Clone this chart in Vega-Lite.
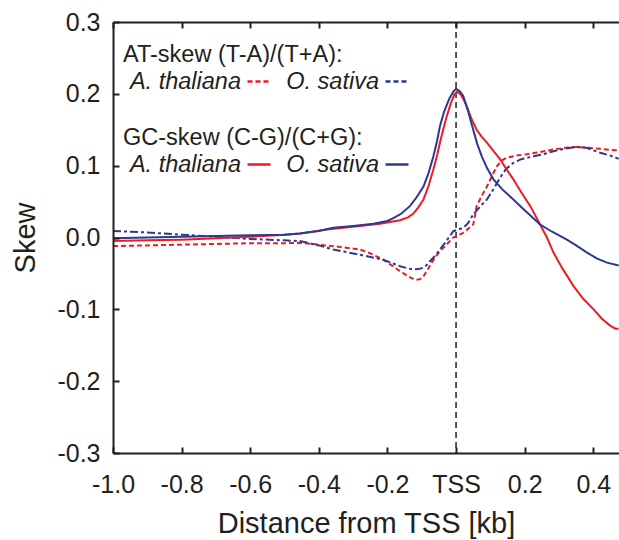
{
  "$schema": "https://vega.github.io/schema/vega-lite/v6.json",
  "autosize": "none",
  "width": 506,
  "height": 431,
  "padding": {"left": 113, "top": 22, "right": 0, "bottom": 87},
  "background": "white",
  "config": {
    "view": {"stroke": null, "fill": null},
    "font": "Liberation Sans",
    "axis": {
      "grid": false,
      "ticks": true,
      "zindex": 1,
      "domainColor": "#231f20",
      "domainWidth": 2,
      "tickColor": "#231f20",
      "tickWidth": 2,
      "tickSize": -6,
      "tickOpacity": 1,
      "labelColor": "#231f20",
      "titleColor": "#231f20",
      "labelFont": "Liberation Sans",
      "titleFont": "Liberation Sans",
      "labelFontSize": 25,
      "titleFontSize": 29,
      "titleFontWeight": "normal",
      "labelFlush": false
    },
    "legend": {
      "orient": "none",
      "direction": "horizontal",
      "columns": 1,
      "symbolType": "stroke",
      "symbolSize": 529,
      "symbolStrokeWidth": 2.5,
      "symbolOffset": 123,
      "labelFont": "Liberation Sans",
      "titleFont": "Liberation Sans",
      "labelFontSize": 23.5,
      "labelFontStyle": "italic",
      "labelAlign": "right",
      "labelOffset": -31,
      "labelLimit": 300,
      "titleLimit": 400,
      "titleFontSize": 23.5,
      "titleFontWeight": "normal",
      "titlePadding": 2,
      "padding": 0,
      "labelColor": "#231f20",
      "titleColor": "#231f20"
    }
  },
  "data": {
    "values": [
      {"x": -1.0, "y": -0.001, "s": "GC", "sp": "O. sativa"},
      {"x": -0.9, "y": 0.0, "s": "GC", "sp": "O. sativa"},
      {"x": -0.8, "y": 0.001, "s": "GC", "sp": "O. sativa"},
      {"x": -0.7, "y": 0.002, "s": "GC", "sp": "O. sativa"},
      {"x": -0.6, "y": 0.003, "s": "GC", "sp": "O. sativa"},
      {"x": -0.5, "y": 0.004, "s": "GC", "sp": "O. sativa"},
      {"x": -0.455, "y": 0.0056, "s": "GC", "sp": "O. sativa"},
      {"x": -0.4, "y": 0.009, "s": "GC", "sp": "O. sativa"},
      {"x": -0.358, "y": 0.0135, "s": "GC", "sp": "O. sativa"},
      {"x": -0.3, "y": 0.016, "s": "GC", "sp": "O. sativa"},
      {"x": -0.241, "y": 0.019, "s": "GC", "sp": "O. sativa"},
      {"x": -0.2, "y": 0.023, "s": "GC", "sp": "O. sativa"},
      {"x": -0.183, "y": 0.027, "s": "GC", "sp": "O. sativa"},
      {"x": -0.16, "y": 0.033, "s": "GC", "sp": "O. sativa"},
      {"x": -0.134, "y": 0.044, "s": "GC", "sp": "O. sativa"},
      {"x": -0.115, "y": 0.056, "s": "GC", "sp": "O. sativa"},
      {"x": -0.095, "y": 0.071, "s": "GC", "sp": "O. sativa"},
      {"x": -0.08, "y": 0.09, "s": "GC", "sp": "O. sativa"},
      {"x": -0.066, "y": 0.113, "s": "GC", "sp": "O. sativa"},
      {"x": -0.055, "y": 0.135, "s": "GC", "sp": "O. sativa"},
      {"x": -0.047, "y": 0.155, "s": "GC", "sp": "O. sativa"},
      {"x": -0.035, "y": 0.175, "s": "GC", "sp": "O. sativa"},
      {"x": -0.02, "y": 0.193, "s": "GC", "sp": "O. sativa"},
      {"x": -0.008, "y": 0.203, "s": "GC", "sp": "O. sativa"},
      {"x": 0.0, "y": 0.207, "s": "GC", "sp": "O. sativa"},
      {"x": 0.01, "y": 0.204, "s": "GC", "sp": "O. sativa"},
      {"x": 0.021, "y": 0.197, "s": "GC", "sp": "O. sativa"},
      {"x": 0.035, "y": 0.176, "s": "GC", "sp": "O. sativa"},
      {"x": 0.05, "y": 0.15, "s": "GC", "sp": "O. sativa"},
      {"x": 0.062, "y": 0.13, "s": "GC", "sp": "O. sativa"},
      {"x": 0.075, "y": 0.113, "s": "GC", "sp": "O. sativa"},
      {"x": 0.09, "y": 0.097, "s": "GC", "sp": "O. sativa"},
      {"x": 0.109, "y": 0.081, "s": "GC", "sp": "O. sativa"},
      {"x": 0.135, "y": 0.067, "s": "GC", "sp": "O. sativa"},
      {"x": 0.167, "y": 0.053, "s": "GC", "sp": "O. sativa"},
      {"x": 0.2, "y": 0.038, "s": "GC", "sp": "O. sativa"},
      {"x": 0.245, "y": 0.018, "s": "GC", "sp": "O. sativa"},
      {"x": 0.28, "y": 0.008, "s": "GC", "sp": "O. sativa"},
      {"x": 0.323, "y": -0.003, "s": "GC", "sp": "O. sativa"},
      {"x": 0.35, "y": -0.011, "s": "GC", "sp": "O. sativa"},
      {"x": 0.382, "y": -0.021, "s": "GC", "sp": "O. sativa"},
      {"x": 0.41, "y": -0.029, "s": "GC", "sp": "O. sativa"},
      {"x": 0.44, "y": -0.035, "s": "GC", "sp": "O. sativa"},
      {"x": 0.474, "y": -0.039, "s": "GC", "sp": "O. sativa"},

      {"x": -1.0, "y": -0.005, "s": "GC", "sp": "A. thaliana"},
      {"x": -0.9, "y": -0.004, "s": "GC", "sp": "A. thaliana"},
      {"x": -0.8, "y": -0.003, "s": "GC", "sp": "A. thaliana"},
      {"x": -0.7, "y": -0.001, "s": "GC", "sp": "A. thaliana"},
      {"x": -0.6, "y": 0.001, "s": "GC", "sp": "A. thaliana"},
      {"x": -0.5, "y": 0.004, "s": "GC", "sp": "A. thaliana"},
      {"x": -0.455, "y": 0.0056, "s": "GC", "sp": "A. thaliana"},
      {"x": -0.377, "y": 0.011, "s": "GC", "sp": "A. thaliana"},
      {"x": -0.28, "y": 0.016, "s": "GC", "sp": "A. thaliana"},
      {"x": -0.222, "y": 0.019, "s": "GC", "sp": "A. thaliana"},
      {"x": -0.163, "y": 0.024, "s": "GC", "sp": "A. thaliana"},
      {"x": -0.14, "y": 0.028, "s": "GC", "sp": "A. thaliana"},
      {"x": -0.125, "y": 0.033, "s": "GC", "sp": "A. thaliana"},
      {"x": -0.11, "y": 0.042, "s": "GC", "sp": "A. thaliana"},
      {"x": -0.095, "y": 0.053, "s": "GC", "sp": "A. thaliana"},
      {"x": -0.08, "y": 0.072, "s": "GC", "sp": "A. thaliana"},
      {"x": -0.066, "y": 0.095, "s": "GC", "sp": "A. thaliana"},
      {"x": -0.055, "y": 0.115, "s": "GC", "sp": "A. thaliana"},
      {"x": -0.047, "y": 0.132, "s": "GC", "sp": "A. thaliana"},
      {"x": -0.035, "y": 0.155, "s": "GC", "sp": "A. thaliana"},
      {"x": -0.027, "y": 0.169, "s": "GC", "sp": "A. thaliana"},
      {"x": -0.015, "y": 0.187, "s": "GC", "sp": "A. thaliana"},
      {"x": -0.005, "y": 0.199, "s": "GC", "sp": "A. thaliana"},
      {"x": 0.003, "y": 0.203, "s": "GC", "sp": "A. thaliana"},
      {"x": 0.012, "y": 0.2, "s": "GC", "sp": "A. thaliana"},
      {"x": 0.02, "y": 0.194, "s": "GC", "sp": "A. thaliana"},
      {"x": 0.031, "y": 0.183, "s": "GC", "sp": "A. thaliana"},
      {"x": 0.045, "y": 0.165, "s": "GC", "sp": "A. thaliana"},
      {"x": 0.06, "y": 0.15, "s": "GC", "sp": "A. thaliana"},
      {"x": 0.075, "y": 0.14, "s": "GC", "sp": "A. thaliana"},
      {"x": 0.09, "y": 0.132, "s": "GC", "sp": "A. thaliana"},
      {"x": 0.11, "y": 0.12, "s": "GC", "sp": "A. thaliana"},
      {"x": 0.128, "y": 0.109, "s": "GC", "sp": "A. thaliana"},
      {"x": 0.15, "y": 0.093, "s": "GC", "sp": "A. thaliana"},
      {"x": 0.167, "y": 0.081, "s": "GC", "sp": "A. thaliana"},
      {"x": 0.19, "y": 0.063, "s": "GC", "sp": "A. thaliana"},
      {"x": 0.216, "y": 0.044, "s": "GC", "sp": "A. thaliana"},
      {"x": 0.245, "y": 0.018, "s": "GC", "sp": "A. thaliana"},
      {"x": 0.265, "y": 0.0, "s": "GC", "sp": "A. thaliana"},
      {"x": 0.284, "y": -0.021, "s": "GC", "sp": "A. thaliana"},
      {"x": 0.31, "y": -0.043, "s": "GC", "sp": "A. thaliana"},
      {"x": 0.343, "y": -0.068, "s": "GC", "sp": "A. thaliana"},
      {"x": 0.37, "y": -0.085, "s": "GC", "sp": "A. thaliana"},
      {"x": 0.401, "y": -0.1, "s": "GC", "sp": "A. thaliana"},
      {"x": 0.425, "y": -0.113, "s": "GC", "sp": "A. thaliana"},
      {"x": 0.45, "y": -0.123, "s": "GC", "sp": "A. thaliana"},
      {"x": 0.465, "y": -0.127, "s": "GC", "sp": "A. thaliana"},
      {"x": 0.474, "y": -0.127, "s": "GC", "sp": "A. thaliana"},

      {"x": -1.0, "y": -0.012, "s": "AT", "sp": "A. thaliana"},
      {"x": -0.9, "y": -0.011, "s": "AT", "sp": "A. thaliana"},
      {"x": -0.8, "y": -0.01, "s": "AT", "sp": "A. thaliana"},
      {"x": -0.7, "y": -0.009, "s": "AT", "sp": "A. thaliana"},
      {"x": -0.6, "y": -0.008, "s": "AT", "sp": "A. thaliana"},
      {"x": -0.5, "y": -0.008, "s": "AT", "sp": "A. thaliana"},
      {"x": -0.455, "y": -0.0074, "s": "AT", "sp": "A. thaliana"},
      {"x": -0.358, "y": -0.012, "s": "AT", "sp": "A. thaliana"},
      {"x": -0.28, "y": -0.0167, "s": "AT", "sp": "A. thaliana"},
      {"x": -0.25, "y": -0.022, "s": "AT", "sp": "A. thaliana"},
      {"x": -0.212, "y": -0.031, "s": "AT", "sp": "A. thaliana"},
      {"x": -0.19, "y": -0.038, "s": "AT", "sp": "A. thaliana"},
      {"x": -0.163, "y": -0.047, "s": "AT", "sp": "A. thaliana"},
      {"x": -0.14, "y": -0.054, "s": "AT", "sp": "A. thaliana"},
      {"x": -0.12, "y": -0.059, "s": "AT", "sp": "A. thaliana"},
      {"x": -0.105, "y": -0.058, "s": "AT", "sp": "A. thaliana"},
      {"x": -0.095, "y": -0.054, "s": "AT", "sp": "A. thaliana"},
      {"x": -0.083, "y": -0.045, "s": "AT", "sp": "A. thaliana"},
      {"x": -0.071, "y": -0.035, "s": "AT", "sp": "A. thaliana"},
      {"x": -0.06, "y": -0.027, "s": "AT", "sp": "A. thaliana"},
      {"x": -0.047, "y": -0.019, "s": "AT", "sp": "A. thaliana"},
      {"x": -0.03, "y": -0.011, "s": "AT", "sp": "A. thaliana"},
      {"x": -0.008, "y": 0.0, "s": "AT", "sp": "A. thaliana"},
      {"x": 0.005, "y": 0.003, "s": "AT", "sp": "A. thaliana"},
      {"x": 0.021, "y": 0.0065, "s": "AT", "sp": "A. thaliana"},
      {"x": 0.035, "y": 0.012, "s": "AT", "sp": "A. thaliana"},
      {"x": 0.05, "y": 0.018, "s": "AT", "sp": "A. thaliana"},
      {"x": 0.055, "y": 0.03, "s": "AT", "sp": "A. thaliana"},
      {"x": 0.06, "y": 0.044, "s": "AT", "sp": "A. thaliana"},
      {"x": 0.075, "y": 0.058, "s": "AT", "sp": "A. thaliana"},
      {"x": 0.09, "y": 0.071, "s": "AT", "sp": "A. thaliana"},
      {"x": 0.105, "y": 0.086, "s": "AT", "sp": "A. thaliana"},
      {"x": 0.119, "y": 0.099, "s": "AT", "sp": "A. thaliana"},
      {"x": 0.133, "y": 0.107, "s": "AT", "sp": "A. thaliana"},
      {"x": 0.148, "y": 0.111, "s": "AT", "sp": "A. thaliana"},
      {"x": 0.175, "y": 0.114, "s": "AT", "sp": "A. thaliana"},
      {"x": 0.206, "y": 0.116, "s": "AT", "sp": "A. thaliana"},
      {"x": 0.245, "y": 0.119, "s": "AT", "sp": "A. thaliana"},
      {"x": 0.284, "y": 0.1225, "s": "AT", "sp": "A. thaliana"},
      {"x": 0.32, "y": 0.125, "s": "AT", "sp": "A. thaliana"},
      {"x": 0.352, "y": 0.126, "s": "AT", "sp": "A. thaliana"},
      {"x": 0.385, "y": 0.125, "s": "AT", "sp": "A. thaliana"},
      {"x": 0.42, "y": 0.1235, "s": "AT", "sp": "A. thaliana"},
      {"x": 0.45, "y": 0.122, "s": "AT", "sp": "A. thaliana"},
      {"x": 0.474, "y": 0.1215, "s": "AT", "sp": "A. thaliana"},

      {"x": -1.0, "y": 0.009, "s": "AT", "sp": "O. sativa"},
      {"x": -0.9, "y": 0.007, "s": "AT", "sp": "O. sativa"},
      {"x": -0.8, "y": 0.004, "s": "AT", "sp": "O. sativa"},
      {"x": -0.7, "y": 0.001, "s": "AT", "sp": "O. sativa"},
      {"x": -0.6, "y": -0.002, "s": "AT", "sp": "O. sativa"},
      {"x": -0.5, "y": -0.004, "s": "AT", "sp": "O. sativa"},
      {"x": -0.455, "y": -0.005, "s": "AT", "sp": "O. sativa"},
      {"x": -0.4, "y": -0.011, "s": "AT", "sp": "O. sativa"},
      {"x": -0.358, "y": -0.0167, "s": "AT", "sp": "O. sativa"},
      {"x": -0.28, "y": -0.024, "s": "AT", "sp": "O. sativa"},
      {"x": -0.212, "y": -0.031, "s": "AT", "sp": "O. sativa"},
      {"x": -0.19, "y": -0.035, "s": "AT", "sp": "O. sativa"},
      {"x": -0.163, "y": -0.04, "s": "AT", "sp": "O. sativa"},
      {"x": -0.14, "y": -0.043, "s": "AT", "sp": "O. sativa"},
      {"x": -0.125, "y": -0.0445, "s": "AT", "sp": "O. sativa"},
      {"x": -0.11, "y": -0.044, "s": "AT", "sp": "O. sativa"},
      {"x": -0.095, "y": -0.042, "s": "AT", "sp": "O. sativa"},
      {"x": -0.085, "y": -0.038, "s": "AT", "sp": "O. sativa"},
      {"x": -0.076, "y": -0.033, "s": "AT", "sp": "O. sativa"},
      {"x": -0.06, "y": -0.025, "s": "AT", "sp": "O. sativa"},
      {"x": -0.047, "y": -0.0167, "s": "AT", "sp": "O. sativa"},
      {"x": -0.03, "y": -0.006, "s": "AT", "sp": "O. sativa"},
      {"x": -0.008, "y": 0.0088, "s": "AT", "sp": "O. sativa"},
      {"x": 0.021, "y": 0.0135, "s": "AT", "sp": "O. sativa"},
      {"x": 0.035, "y": 0.02, "s": "AT", "sp": "O. sativa"},
      {"x": 0.05, "y": 0.032, "s": "AT", "sp": "O. sativa"},
      {"x": 0.07, "y": 0.043, "s": "AT", "sp": "O. sativa"},
      {"x": 0.09, "y": 0.053, "s": "AT", "sp": "O. sativa"},
      {"x": 0.11, "y": 0.068, "s": "AT", "sp": "O. sativa"},
      {"x": 0.128, "y": 0.083, "s": "AT", "sp": "O. sativa"},
      {"x": 0.145, "y": 0.095, "s": "AT", "sp": "O. sativa"},
      {"x": 0.167, "y": 0.104, "s": "AT", "sp": "O. sativa"},
      {"x": 0.19, "y": 0.109, "s": "AT", "sp": "O. sativa"},
      {"x": 0.226, "y": 0.113, "s": "AT", "sp": "O. sativa"},
      {"x": 0.255, "y": 0.116, "s": "AT", "sp": "O. sativa"},
      {"x": 0.284, "y": 0.12, "s": "AT", "sp": "O. sativa"},
      {"x": 0.32, "y": 0.124, "s": "AT", "sp": "O. sativa"},
      {"x": 0.352, "y": 0.126, "s": "AT", "sp": "O. sativa"},
      {"x": 0.38, "y": 0.125, "s": "AT", "sp": "O. sativa"},
      {"x": 0.42, "y": 0.118, "s": "AT", "sp": "O. sativa"},
      {"x": 0.45, "y": 0.114, "s": "AT", "sp": "O. sativa"},
      {"x": 0.474, "y": 0.1095, "s": "AT", "sp": "O. sativa"}
    ]
  },
  "layer": [
    {
      "data": {"values": [{"x": 0}]},
      "mark": {"type": "rule", "color": "#231f20", "strokeWidth": 1.5, "strokeDash": [6, 4]},
      "encoding": {
        "x": {
          "field": "x", "type": "quantitative",
          "scale": {"domain": [-1, 0.475], "nice": false, "zero": false},
          "axis": {"orient": "top", "labels": false, "title": null, "zindex": 1, "ticks": true, "tickSize": -6, "tickWidth": 2, "tickColor": "#231f20", "values": [-1, -0.8, -0.6, -0.4, -0.2, 0, 0.2, 0.4]}
        }
      }
    },
    {
      "transform": [{"filter": "datum.s === 'AT' && datum.sp === 'A. thaliana'"}],
      "mark": {"type": "line", "strokeWidth": 2, "strokeDash": [5, 3]},
      "encoding": {
        "x": {
          "field": "x", "type": "quantitative",
          "scale": {"domain": [-1, 0.475], "nice": false, "zero": false},
          "axis": {
            "orient": "bottom",
            "title": "Distance from TSS [kb]",
            "values": [-1, -0.8, -0.6, -0.4, -0.2, 0, 0.2, 0.4],
            "labelExpr": "datum.value == 0 ? 'TSS' : replace(format(datum.value, '.1f'), '\u2212', '-')",
            "zindex": 1,
            "ticks": true, "tickSize": -6, "tickWidth": 2, "tickColor": "#231f20",
            "labelPadding": 25,
            "labelDx": -3,
            "titlePadding": 12
          }
        },
        "y": {
          "field": "y", "type": "quantitative",
          "scale": {"domain": [-0.3, 0.3], "nice": false, "zero": false},
          "axis": {
            "title": "Skew",
            "values": [-0.3, -0.2, -0.1, 0, 0.1, 0.2, 0.3],
            "labelExpr": "replace(format(datum.value, '.1f'), '\u2212', '-')",
            "zindex": 1,
            "ticks": true, "tickSize": -6, "tickWidth": 2, "tickColor": "#231f20",
            "labelPadding": 19,
            "titlePadding": 16
          }
        },
        "color": {
          "field": "sp", "type": "nominal",
          "scale": {"domain": ["A. thaliana"], "range": ["#ed1c24"]},
          "legend": {"title": "AT-skew (T-A)/(T+A):", "legendX": 10, "legendY": 21, "symbolDash": [5, 3]}
        }
      }
    },
    {
      "transform": [{"filter": "datum.s === 'AT' && datum.sp === 'O. sativa'"}],
      "mark": {"type": "line", "strokeWidth": 2, "strokeDash": [8, 3, 3, 3]},
      "encoding": {
        "x": {"field": "x", "type": "quantitative", "scale": {"domain": [-1, 0.475], "nice": false, "zero": false}, "axis": null},
        "y": {"field": "y", "type": "quantitative", "scale": {"domain": [-0.3, 0.3], "nice": false, "zero": false}, "axis": null},
        "color": {
          "field": "sp", "type": "nominal",
          "scale": {"domain": ["O. sativa"], "range": ["#2b3990"]},
          "legend": {"title": null, "legendX": 148, "legendY": 46.5, "symbolDash": [5, 3]}
        }
      }
    },
    {
      "transform": [{"filter": "datum.s === 'GC' && datum.sp === 'A. thaliana'"}],
      "mark": {"type": "line", "strokeWidth": 2},
      "encoding": {
        "x": {"field": "x", "type": "quantitative", "scale": {"domain": [-1, 0.475], "nice": false, "zero": false}, "axis": null},
        "y": {"field": "y", "type": "quantitative", "scale": {"domain": [-0.3, 0.3], "nice": false, "zero": false}, "axis": null},
        "color": {
          "field": "sp", "type": "nominal",
          "scale": {"domain": ["A. thaliana"], "range": ["#ed1c24"]},
          "legend": {"title": "GC-skew (C-G)/(C+G):", "legendX": 10, "legendY": 104}
        }
      }
    },
    {
      "transform": [{"filter": "datum.s === 'GC' && datum.sp === 'O. sativa'"}],
      "mark": {"type": "line", "strokeWidth": 2},
      "encoding": {
        "x": {"field": "x", "type": "quantitative", "scale": {"domain": [-1, 0.475], "nice": false, "zero": false}, "axis": null},
        "y": {"field": "y", "type": "quantitative", "scale": {"domain": [-0.3, 0.3], "nice": false, "zero": false}, "axis": null},
        "color": {
          "field": "sp", "type": "nominal",
          "scale": {"domain": ["O. sativa"], "range": ["#2b3990"]},
          "legend": {"title": null, "legendX": 148, "legendY": 129.5}
        }
      }
    }
  ],
  "resolve": {
    "scale": {"color": "independent"},
    "axis": {"x": "independent", "y": "independent"}
  }
}
